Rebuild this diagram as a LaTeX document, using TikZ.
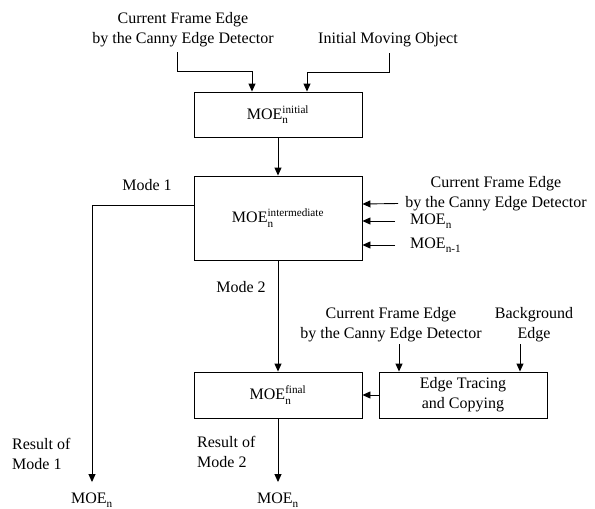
\documentclass[tikz,border=0pt]{standalone}
\usepackage{amsmath}
\usepackage{fontspec}
\setmainfont{Liberation Serif}
\usetikzlibrary{arrows.meta}

\newcommand{\moe}[2]{MOE$_{\text{#1}}^{\text{#2}}$}

\begin{document}
\begin{tikzpicture}[x=1pt,y=-1pt,
  font=\fontsize{16}{20}\selectfont,
  box/.style={draw,line width=0.9pt,minimum width=168pt,align=center},
  lbl/.style={align=center,inner sep=0pt},
  arr/.style={line width=0.9pt,-{Triangle[length=8pt,width=7pt]}}]
  \useasboundingbox (0,0) rectangle (595,509);

  \node[box,minimum height=45pt] (init) at (278,114.5) {\moe{n}{initial}};
  \node[box,minimum height=84pt] (inter) at (278,218) {\moe{n}{intermediate}};
  \node[box,minimum height=46pt] (final) at (278,395) {\moe{n}{final}};
  \node[box,minimum height=46pt] (edge) at (463,395) {Edge Tracing\\and Copying};

  \node[lbl] (cfeA) at (183,30) {Current Frame Edge\\by the Canny Edge Detector};
  \node[lbl] (imo) at (388,40) {Initial Moving Object};
  \node[lbl] (cfeB) at (496,193.5) {Current Frame Edge\\by the Canny Edge Detector};
  \node[lbl,anchor=west] (moeA) at (410,221) {\moe{n}{}};
  \node[lbl,anchor=west] (moeB) at (410,245) {\moe{n-1}{}};
  \node[lbl] (cfeC) at (391,325) {Current Frame Edge\\by the Canny Edge Detector};
  \node[lbl] (bg) at (534,325) {Background\\Edge};

  \node[lbl] (mode1) at (147,185) {Mode 1};
  \node[lbl] (mode2) at (241,287) {Mode 2};
  \node[lbl,align=left,anchor=west] (res1) at (12,454) {Result of\\Mode 1};
  \node[lbl,align=left,anchor=west] (res2) at (197,452) {Result of\\Mode 2};
  \node (out1) at (92,500) {\moe{n}{}};
  \node (out2) at (278,500) {\moe{n}{}};

  \draw[arr] ([xshift=-6pt,yshift=-5pt]cfeA.south) -- ++(0,19) -| ([xshift=-26pt]init.north);
  \draw[arr] ([xshift=1pt,yshift=-6pt]imo.south) -- ++(0,19) -| ([xshift=29pt]init.north);
  \draw[arr] (init) -- (inter);
  \draw[arr] ([xshift=-7pt,yshift=-10pt]cfeB.west) -- ([yshift=14pt]inter.east);
  \draw[arr] ([xshift=-15pt]moeA.west) -- ([yshift=-3pt]inter.east);
  \draw[arr] ([xshift=-15pt]moeB.west) -- ([yshift=-27pt]inter.east);
  \draw[arr,shorten >=7pt] ([yshift=13pt]inter.west) -| (out1);
  \draw[arr] (inter) -- (final);
  \draw[arr] ([xshift=8pt,yshift=-2pt]cfeC.south) -- ([xshift=-64pt]edge.north);
  \draw[arr] ([xshift=-14pt,yshift=-2pt]bg.south) -- ([xshift=57pt]edge.north);
  \draw[arr] (edge) -- (final);
  \draw[arr,shorten >=7pt] (final) -- (out2);
\end{tikzpicture}
\end{document}
